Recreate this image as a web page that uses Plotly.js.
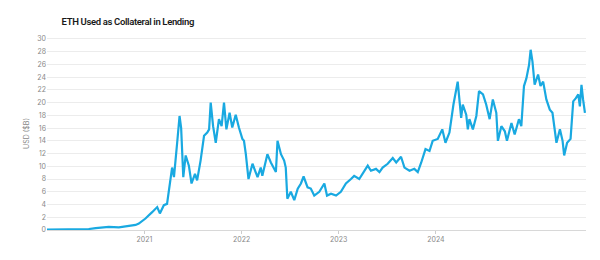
<!DOCTYPE html>
<html>
<head>
<meta charset="utf-8">
<script src="https://cdn.plot.ly/plotly-3.0.1.min.js"></script>
<style>
  html, body { margin: 0; padding: 0; background: #fff; }
  #chart { width: 600px; height: 260px; }
  #chart .gtitle { letter-spacing: -0.35px; }
</style>
</head>
<body>
<div id="chart"></div>
<script>
const chartTitle = "ETH Used as Collateral in Lending";
const yAxisTitle = "USD ($B)";

const dates = [
  "2020-01-01","2020-02-14","2020-04-11","2020-06-06","2020-07-02","2020-07-26","2020-08-20","2020-09-27",
  "2020-11-04","2020-11-29","2020-12-11","2021-01-05","2021-01-30","2021-02-18","2021-02-28","2021-03-15",
  "2021-03-27","2021-04-09","2021-04-15","2021-04-22","2021-04-28","2021-05-04","2021-05-13","2021-05-19",
  "2021-05-27","2021-06-05","2021-06-17","2021-06-27","2021-07-10","2021-07-18","2021-07-31","2021-08-13",
  "2021-08-25","2021-09-01","2021-09-07","2021-09-16","2021-09-26","2021-10-08","2021-10-18","2021-10-27",
  "2021-11-05","2021-11-17","2021-11-27","2021-12-10","2021-12-22","2022-01-04","2022-01-10","2022-01-17",
  "2022-01-27","2022-02-11","2022-03-02","2022-03-14","2022-03-20","2022-04-08","2022-04-21","2022-05-10",
  "2022-05-16","2022-05-29","2022-06-10","2022-06-16","2022-06-22","2022-07-05","2022-07-18","2022-07-31",
  "2022-08-12","2022-08-22","2022-09-06","2022-09-18","2022-10-01","2022-10-20","2022-11-08","2022-11-18",
  "2022-12-03","2022-12-22","2023-01-09","2023-01-28","2023-02-16","2023-02-28","2023-03-19","2023-04-20",
  "2023-05-02","2023-05-21","2023-06-03","2023-06-15","2023-07-04","2023-07-23","2023-08-05","2023-08-23",
  "2023-09-05","2023-09-24","2023-10-12","2023-10-25","2023-11-07","2023-11-23","2023-12-08","2023-12-20",
  "2024-01-08","2024-01-25","2024-02-06","2024-02-21","2024-03-07","2024-03-23","2024-04-05","2024-04-11",
  "2024-04-24","2024-04-30","2024-05-06","2024-05-19","2024-06-01","2024-06-11","2024-06-26","2024-07-08",
  "2024-07-21","2024-08-02","2024-08-15","2024-08-21","2024-09-03","2024-09-16","2024-09-24","2024-10-11",
  "2024-10-23","2024-11-08","2024-11-17","2024-11-27","2024-12-06","2024-12-16","2024-12-22","2024-12-29",
  "2025-01-06","2025-01-19","2025-01-28","2025-02-07","2025-02-19","2025-03-04","2025-03-14","2025-03-23",
  "2025-03-29","2025-04-11","2025-04-21","2025-04-27","2025-05-08","2025-05-21","2025-05-31","2025-06-10",
  "2025-06-19","2025-06-25","2025-07-01","2025-07-07","2025-07-14"
];

const collateralUsdB = [
  0.05,0.08,0.1,0.15,0.3,0.4,0.5,0.4,
  0.6,0.8,1.0,1.8,2.8,3.6,2.6,3.9,
  4.1,7.5,9.8,8.3,10.6,13.7,17.9,16,
  8.3,11.7,10.1,7.3,8.8,7.8,10.9,14.8,
  15.3,15.8,20,16.3,13.7,17.4,16.3,20,
  15.8,18.4,16.1,18.1,16.1,14.3,14.0,11.9,
  8.0,10.4,8.3,9.8,8.5,11.9,10.6,9.1,
  14,11.9,10.9,9.8,4.9,6.0,4.7,6.5,
  7.3,8.4,6.7,6.5,5.4,6.0,7.3,5.4,
  5.7,5.4,6.0,7.3,8.0,8.5,8.0,10.1,
  9.3,9.6,9.1,9.8,10.4,11.3,10.6,11.5,
  9.8,9.3,9.6,9.1,10.6,12.7,12.4,14,
  14.3,15.8,13.7,15.3,19.7,23.3,17.6,19.7,
  18.1,15.8,17.4,15.8,17.9,21.8,21.3,19.7,
  17.4,20.5,18.4,14,16.3,15.5,14,16.8,
  15,17.4,16.3,22.6,23.8,25.9,28.3,26.4,
  22.8,24.4,22.6,23.3,20.5,18.9,18.4,15.8,
  13.7,15.8,14,11.7,13.7,14.3,20.2,20.7,
  21.3,19.4,22.8,20.5,18.4
];

const yTicks = [0,2,4,6,8,10,12,14,16,18,20,22,24,26,28,30];
const xTickVals = ["2021-01-01","2022-01-01","2023-01-01","2024-01-01"];
const xTickText = ["2021","2022","2023","2024"];

const trace = {
  x: dates,
  y: collateralUsdB,
  type: "scatter",
  mode: "lines",
  line: { color: "#19a9e1", width: 2.2 },
  hoverinfo: "x+y"
};

const layout = {
  width: 600,
  height: 260,
  margin: { l: 47, r: 14, t: 37, b: 30 },
  paper_bgcolor: "#ffffff",
  plot_bgcolor: "#ffffff",
  font: { family: "Inter, 'Noto Sans', sans-serif", color: "#888", size: 7 },
  title: {
    text: chartTitle,
    x: 0.027, xanchor: "left", xref: "paper",
    y: 0.917, yanchor: "middle",
    font: { family: "Roboto, Inter, sans-serif", size: 9.5, color: "#1a1a1a", weight: 600 }
  },
  showlegend: false,
  xaxis: {
    type: "date",
    range: ["2020-01-01", "2025-07-18"],
    tickvals: xTickVals,
    ticktext: xTickText,
    showgrid: false,
    zeroline: false,
    showline: false,
    ticks: "outside",
    ticklen: 3,
    tickcolor: "#ccc",
    tickfont: { size: 7, color: "#888" }
  },
  yaxis: {
    range: [0, 30.3],
    tickvals: yTicks,
    showgrid: true,
    gridcolor: "#ececec",
    gridwidth: 1,
    zeroline: true,
    zerolinecolor: "#d8d8d8",
    showline: false,
    ticks: "",
    tickfont: { size: 7, color: "#888" },
    title: { text: yAxisTitle, font: { size: 7, color: "#888" }, standoff: 6 }
  }
};

Plotly.newPlot("chart", [trace], layout, { displayModeBar: false, staticPlot: true });
</script>
</body>
</html>
